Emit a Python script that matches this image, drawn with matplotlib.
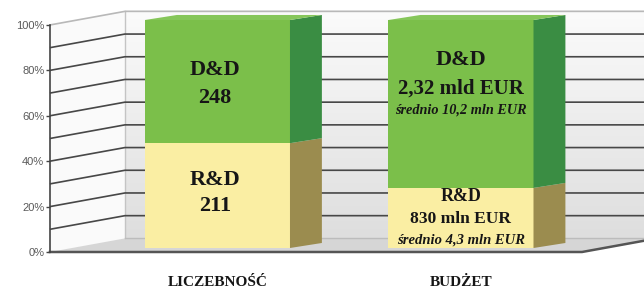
import numpy as np
import matplotlib
matplotlib.use("Agg")
from matplotlib import pyplot as plt
from matplotlib.patches import Polygon

# data
categories = ["LICZEBNOŚĆ", "BUDŻET"]
rd_values = [211, 830]       # R&D: number of projects / budget (mln EUR)
dd_values = [248, 2320]      # D&D: number of projects / budget (mln EUR)
rd_labels = [["R&D", "211"], ["R&D", "830 mln EUR", "średnio 4,3 mln EUR"]]
dd_labels = [["D&D", "248"], ["D&D", "2,32 mld EUR", "średnio 10,2 mln EUR"]]
yticks = [0, 20, 40, 60, 80, 100]
ytick_labels = ["0%", "20%", "40%", "60%", "80%", "100%"]

rd_pct = [100 * r / (r + d) for r, d in zip(rd_values, dd_values)]

# colours
GREEN = "#7bbf4a"
GREEN_SIDE = "#3a8d43"
GREEN_TOP = "#86c65a"
YELLOW = "#faeea3"
YELLOW_SIDE = "#9b8c4f"
TEXT = "#161616"

# pseudo-3d geometry (data units)
X_AXIS = -0.688          # left axis position
X_FIG = (-0.893, 1.7515)
WALL_DX, WALL_DY = 0.308, 6.0
BAR_W = 0.5955
BAR_DX, BAR_DY = 0.131, 2.2
X_FLOOR_END = 1.497

fig = plt.figure(figsize=(6.44, 2.91), dpi=100)
ax = fig.add_axes([0, 0, 1, 1])
ax.set_xlim(*X_FIG)
ax.set_ylim(-17.18, 111.0)

xb = X_AXIS + WALL_DX
# back wall with vertical gradient
grad = np.linspace(0, 1, 100).reshape(-1, 1)
cmap = matplotlib.colors.LinearSegmentedColormap.from_list("wall", ["#dedede", "#fbfbfb"])
ax.imshow(grad, extent=[xb, X_FIG[1] + 0.1, WALL_DY, 100 + WALL_DY], origin="lower",
          aspect="auto", cmap=cmap, zorder=0)
# left wall
ax.add_patch(Polygon([(X_AXIS, 0), (X_AXIS, 100), (xb, 100 + WALL_DY), (xb, WALL_DY)],
                     closed=True, facecolor="#fafafa", edgecolor="none", zorder=0.5))
# floor
ax.add_patch(Polygon([(X_AXIS, 0), (X_FLOOR_END, 0), (X_FLOOR_END + WALL_DX, WALL_DY),
                      (xb, WALL_DY)], closed=True, facecolor="#d6d6d6",
                     edgecolor="none", zorder=0.5))
ax.plot([xb, xb], [WALL_DY, 100 + WALL_DY], color="#c4c4c4", lw=1, zorder=0.8)

# gridlines
for v in range(10, 101, 10):
    c = "#b8b8b8" if v == 100 else "#474747"
    ax.plot([X_AXIS, xb, X_FIG[1] + 0.1], [v, v + WALL_DY, v + WALL_DY],
            color=c, lw=1.2, zorder=0.9, solid_capstyle="butt")
ax.plot([xb, X_FIG[1] + 0.1], [WALL_DY, WALL_DY], color="#bcbcbc", lw=1, zorder=0.9)
ax.plot([X_AXIS, X_FLOOR_END, X_FLOOR_END + WALL_DX], [0, 0, WALL_DY],
        color="#555555", lw=1.8, zorder=0.9)

# left axis
for s in ["top", "right", "bottom"]:
    ax.spines[s].set_visible(False)
ax.spines["left"].set_position(("data", X_AXIS))
ax.spines["left"].set_bounds(0, 100)
ax.spines["left"].set_color("#444444")
ax.spines["left"].set_linewidth(1.2)
ax.set_yticks(yticks)
ax.set_yticklabels(ytick_labels, fontsize=8, color="#5a5a5a", family="Liberation Sans")
ax.tick_params(axis="y", length=3, width=1, color="#444444", pad=1)
ax.set_xticks([])
ax.patch.set_visible(False)

# category labels
for i, cat in enumerate(categories):
    ax.text(i, -13.6, cat, ha="center", va="center", fontsize=11, fontweight="bold",
            family="Liberation Serif", color=TEXT)

# bars on an overlay axes (slightly different projection scale)
ax2 = fig.add_axes([0, 0, 1, 1])
ax2.set_xlim(*X_FIG)
ax2.set_ylim(-18.86, 108.77)
ax2.axis("off")
ax2.patch.set_visible(False)

x = np.arange(len(categories))
dd_pct = [100 - p for p in rd_pct]
ax2.bar(x, rd_pct, width=BAR_W, color=YELLOW, zorder=2)
ax2.bar(x, dd_pct, bottom=rd_pct, width=BAR_W, color=GREEN, zorder=2)


def side(xc, b, t, color):
    xr = xc + BAR_W / 2
    ax2.add_patch(Polygon([(xr, b), (xr + BAR_DX, b + BAR_DY), (xr + BAR_DX, t + BAR_DY),
                           (xr, t)], closed=True, facecolor=color, edgecolor="none", zorder=2))


for i in x:
    side(i, 0, rd_pct[i], YELLOW_SIDE)
    side(i, rd_pct[i], 100, GREEN_SIDE)
    xl, xr = i - BAR_W / 2, i + BAR_W / 2
    ax2.add_patch(Polygon([(xl, 100), (xr, 100), (xr + BAR_DX, 100 + BAR_DY),
                           (xl + BAR_DX, 100 + BAR_DY)], closed=True,
                          facecolor=GREEN_TOP, edgecolor="none", zorder=2))

serif = "Liberation Serif"
# LICZEBNOŚĆ labels
ax2.text(-0.01, 78, dd_labels[0][0], ha="center", va="center", fontsize=16, fontweight="bold", family=serif, color=TEXT)
ax2.text(-0.01, 65.8, dd_labels[0][1], ha="center", va="center", fontsize=16, fontweight="bold", family=serif, color=TEXT)
ax2.text(-0.01, 29.8, rd_labels[0][0], ha="center", va="center", fontsize=16, fontweight="bold", family=serif, color=TEXT)
ax2.text(-0.01, 18.4, rd_labels[0][1], ha="center", va="center", fontsize=16, fontweight="bold", family=serif, color=TEXT)
# BUDŻET labels
ax2.text(1, 82.5, dd_labels[1][0], ha="center", va="center", fontsize=16, fontweight="bold", family=serif, color=TEXT)
ax2.text(1, 70.0, dd_labels[1][1], ha="center", va="center", fontsize=15, fontweight="bold", family=serif, color=TEXT)
ax2.text(1, 60.3, dd_labels[1][2], ha="center", va="center", fontsize=10.3, fontweight="bold",
         style="italic", family=serif, color=TEXT)
ax2.text(1, 22.4, rd_labels[1][0], ha="center", va="center", fontsize=13, fontweight="bold", family=serif, color=TEXT)
ax2.text(1, 12.5, rd_labels[1][1], ha="center", va="center", fontsize=12.5, fontweight="bold", family=serif, color=TEXT)
ax2.text(1, 3.6, rd_labels[1][2], ha="center", va="center", fontsize=10.5, fontweight="bold",
         style="italic", family=serif, color=TEXT)

fig.savefig("out.png", dpi=100)
